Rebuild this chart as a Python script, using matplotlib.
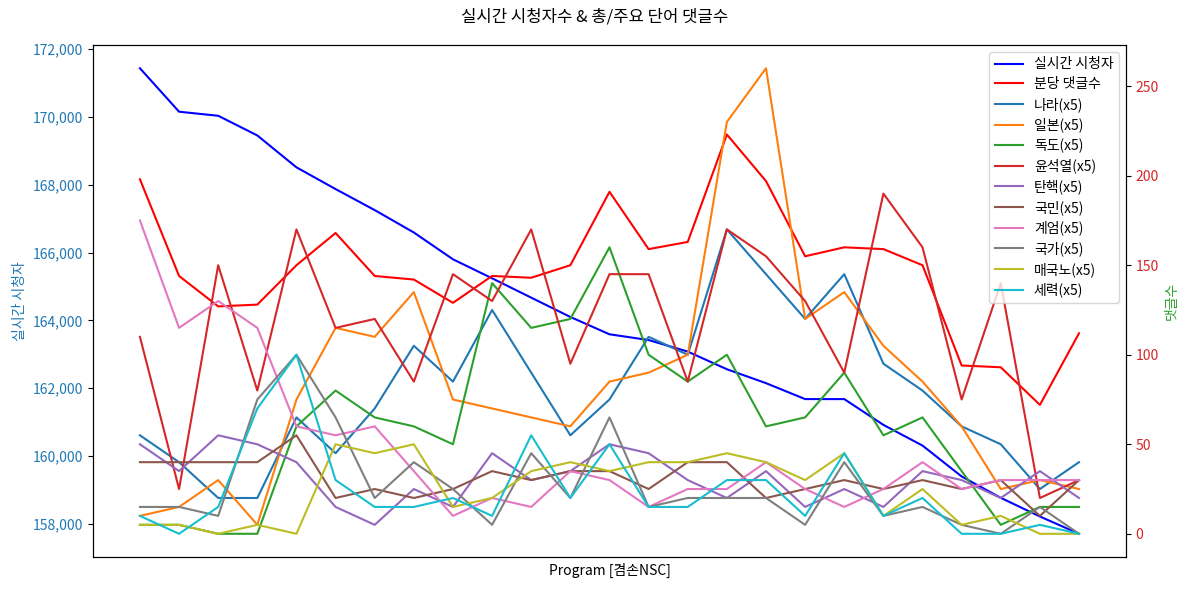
import matplotlib
matplotlib.use('Agg')
import matplotlib.pyplot as plt
from matplotlib.ticker import FuncFormatter

plt.rcParams['font.family'] = ['Noto Sans CJK KR', 'DejaVu Sans']
plt.rcParams['axes.unicode_minus'] = False

# 25 minute samples
minutes = list(range(25))

viewers = [171430, 170150, 170030, 169450, 168510, 167870, 167250, 166590, 165800, 165240,
           164670, 164100, 163590, 163420, 163080, 162560, 162150, 161680, 161680, 160920,
           160310, 159400, 158770, 158220, 157710]
comments = [198, 144, 127, 128, 150, 168, 144, 142, 129, 144, 143, 150, 191, 159, 163,
            223, 197, 155, 160, 159, 150, 94, 93, 72, 112]

# keyword counts (x5)
kw_names = ['나라', '일본', '독도', '윤석열', '탄핵', '국민', '계엄', '국가', '매국노', '세력']
nara = [55, 40, 20, 20, 65, 45, 70, 105, 85, 125, 90, 55, 75, 110, 100, 170, 145, 120, 145, 95, 80, 60, 50, 25, 40]
ilbon = [10, 15, 30, 5, 75, 115, 110, 135, 75, 70, 65, 60, 85, 90, 100, 230, 260, 120, 135, 105, 85, 60, 25, 30, 25]
dokdo = [5, 5, 0, 0, 60, 80, 65, 60, 50, 140, 115, 120, 160, 100, 85, 100, 60, 65, 90, 55, 65, 35, 5, 15, 15]
yoon = [110, 25, 150, 80, 170, 115, 120, 85, 145, 130, 170, 95, 145, 145, 85, 170, 155, 130, 90, 190, 160, 75, 140, 20, 30]
tanhaek = [50, 35, 55, 50, 40, 15, 5, 25, 15, 45, 30, 35, 50, 45, 30, 20, 35, 15, 25, 15, 35, 30, 20, 35, 20]
gukmin = [40, 40, 40, 40, 55, 20, 25, 20, 25, 35, 30, 35, 35, 25, 40, 40, 20, 25, 30, 25, 30, 25, 30, 10, 30]
gyeeom = [175, 115, 130, 115, 60, 55, 60, 35, 10, 20, 15, 35, 30, 15, 25, 25, 40, 25, 15, 25, 40, 25, 30, 30, 30]
gukga = [15, 15, 10, 75, 100, 65, 20, 40, 25, 5, 45, 20, 65, 15, 20, 20, 20, 5, 40, 10, 15, 5, 0, 15, 0]
maegukno = [5, 5, 0, 5, 0, 50, 45, 50, 15, 20, 35, 40, 35, 40, 40, 45, 40, 30, 45, 10, 25, 5, 10, 0, 0]
seryeok = [10, 0, 15, 70, 100, 30, 15, 15, 20, 10, 55, 20, 50, 15, 15, 30, 30, 10, 45, 10, 20, 0, 0, 5, 0]
kw_values = [nara, ilbon, dokdo, yoon, tanhaek, gukmin, gyeeom, gukga, maegukno, seryeok]

fig, ax1 = plt.subplots(figsize=(11.89, 5.92), dpi=100)
fig.subplots_adjust(left=0.0782, right=0.947, top=0.924, bottom=0.059)

l1, = ax1.plot(minutes, viewers, color='blue', label='실시간 시청자')
ax1.set_ylabel('실시간 시청자', color='tab:blue')
ax1.tick_params(axis='y', labelcolor='tab:blue')
ax1.yaxis.set_major_formatter(FuncFormatter(lambda v, p: f'{int(v):,}'))
ax1.set_xticks([])
ax1.set_xlabel('Program [겸손NSC]')

ax2 = ax1.twinx()
l2, = ax2.plot(minutes, comments, color='red', label='분당 댓글수')
handles = [l1, l2]
for i, (name, vals) in enumerate(zip(kw_names, kw_values)):
    ln, = ax2.plot(minutes, vals, color=f'C{i}', label=f'{name}(x5)')
    handles.append(ln)
ax2.set_ylabel('댓글수', color='tab:green')
ax2.tick_params(axis='y', labelcolor='tab:red')

ax2.legend(handles=handles, labels=[h.get_label() for h in handles], loc='upper right',
           labelspacing=0.42)
fig.suptitle('실시간 시청자수 & 총/주요 단어 댓글수', y=0.985)

fig.savefig('out.png', dpi=100)
